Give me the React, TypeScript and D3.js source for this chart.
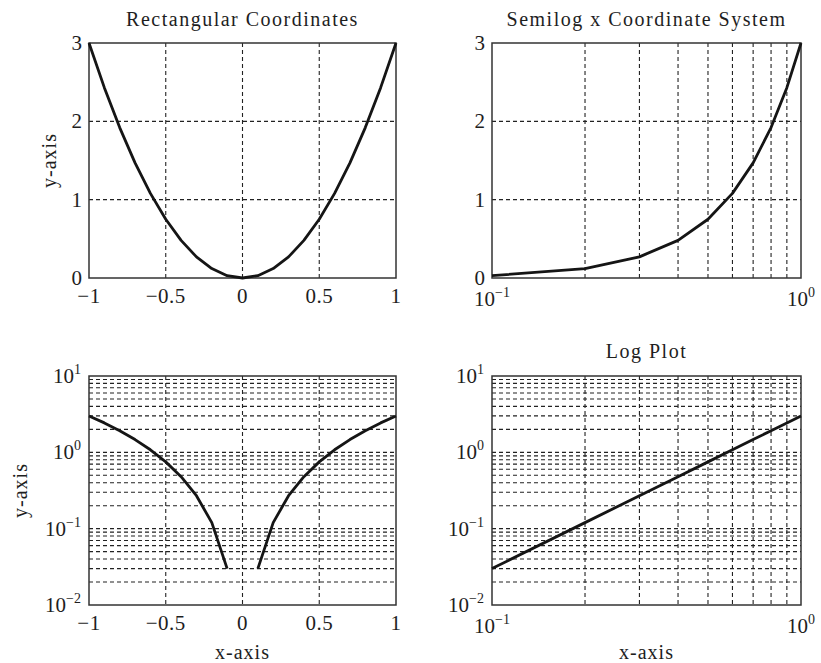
import React from "react";
import * as d3 from "d3";

// ---- data ----
const X_ALL = [-1, -0.9, -0.8, -0.7, -0.6, -0.5, -0.4, -0.3, -0.2, -0.1, 0, 0.1, 0.2, 0.3, 0.4, 0.5, 0.6, 0.7, 0.8, 0.9, 1];
const Y_ALL = [3, 2.43, 1.92, 1.47, 1.08, 0.75, 0.48, 0.27, 0.12, 0.03, 0, 0.03, 0.12, 0.27, 0.48, 0.75, 1.08, 1.47, 1.92, 2.43, 3];
const X_POS = [0.1, 0.2, 0.3, 0.4, 0.5, 0.6, 0.7, 0.8, 0.9, 1];
const Y_POS = [0.03, 0.12, 0.27, 0.48, 0.75, 1.08, 1.47, 1.92, 2.43, 3];

const LIN_X_TICKS = [-1, -0.5, 0, 0.5, 1];
const LIN_Y_TICKS = [0, 1, 2, 3];
const LOG_X_TICKS = [0.1, 1];
const LOG_Y_TICKS = [0.01, 0.1, 1, 10];

const TITLES = ["Rectangular Coordinates", "Semilog x Coordinate System", "", "Log Plot"];

const FONT = "'Liberation Serif', 'DejaVu Serif', serif";
const INK = "#1e1e1e";

type Kind = "lin" | "log";

const fmtLin = (v: number) => (v < 0 ? "\u2212" + String(-v) : String(v));
const expOf = (v: number) => Math.round(Math.log10(v));
const fmtExp = (e: number) => (e < 0 ? "\u2212" + String(-e) : String(e));

function Panel(props: {
  left: number; right: number; top: number; bottom: number;
  xKind: Kind; yKind: Kind; xs: number[]; ys: number[];
  title: string; titleY: number; yLabel: string; yLabelX: number; xLabel: string; xLabelY: number;
}) {
  const { left, right, top, bottom, xKind, yKind, xs, ys } = props;
  const x: any = xKind === "lin"
    ? d3.scaleLinear().domain([-1, 1]).range([left, right])
    : d3.scaleLog().domain([0.1, 1]).range([left, right]);
  const y: any = yKind === "lin"
    ? d3.scaleLinear().domain([0, 3]).range([bottom, top])
    : d3.scaleLog().domain([0.01, 10]).range([bottom, top]);

  const eps = 1e-9;
  const inside = (v: number, dom: number[]) => v > dom[0] + eps && v < dom[1] - eps;

  const xGrid: number[] = xKind === "lin"
    ? LIN_X_TICKS.filter((v) => inside(v, x.domain()))
    : x.ticks().filter((v: number) => inside(v, x.domain()));
  const yGrid: number[] = yKind === "lin"
    ? LIN_Y_TICKS.filter((v) => inside(v, y.domain()))
    : y.ticks().filter((v: number) => inside(v, y.domain()));

  const pts = xs.map((v, i) => [v, ys[i]] as [number, number]);
  const line = d3.line<[number, number]>()
    .defined((d) => (yKind === "log" ? d[1] > 0 : true))
    .x((d) => x(d[0]))
    .y((d) => y(d[1]));

  const xTicks = xKind === "lin" ? LIN_X_TICKS : LOG_X_TICKS;
  const yTicks = yKind === "lin" ? LIN_Y_TICKS : LOG_Y_TICKS;

  return (
    <g fontFamily={FONT} fill={INK}>
      {xGrid.map((v) => (
        <line key={"gx" + v} x1={x(v)} x2={x(v)} y1={top} y2={bottom}
          stroke="#222" strokeWidth={1.1} strokeDasharray="4,3" />
      ))}
      {yGrid.map((v) => (
        <line key={"gy" + v} x1={left} x2={right} y1={y(v)} y2={y(v)}
          stroke="#222" strokeWidth={1.1} strokeDasharray="4,3" />
      ))}
      <rect x={left} y={top} width={right - left} height={bottom - top}
        fill="none" stroke="#333" strokeWidth={1.5} />
      <path d={line(pts) || ""} fill="none" stroke="#151515" strokeWidth={2.8} strokeLinejoin="round" />

      {xTicks.map((v) =>
        xKind === "lin" ? (
          <text key={"tx" + v} x={x(v)} y={bottom + 25} textAnchor="middle" fontSize={21} letterSpacing={0.5}>
            {fmtLin(v)}
          </text>
        ) : (
          <text key={"tx" + v} x={x(v)} y={bottom + 28} textAnchor="middle" fontSize={21}>
            <tspan>10</tspan>
            <tspan dy={-9} fontSize={14}>{fmtExp(expOf(v))}</tspan>
          </text>
        )
      )}
      {yTicks.map((v) =>
        yKind === "lin" ? (
          <text key={"ty" + v} x={left - 7} y={y(v) + 7} textAnchor="end" fontSize={21}>
            {fmtLin(v)}
          </text>
        ) : (
          <text key={"ty" + v} x={left - 8} y={y(v) + 7} textAnchor="end" fontSize={21}>
            <tspan>10</tspan>
            <tspan dy={-9} fontSize={14}>{fmtExp(expOf(v))}</tspan>
          </text>
        )
      )}

      {props.title && (
        <text x={(left + right) / 2} y={props.titleY} textAnchor="middle" fontSize={20} letterSpacing={1.5}>
          {props.title}
        </text>
      )}
      {props.yLabel && (
        <text transform={`translate(${props.yLabelX},${(top + bottom) / 2}) rotate(-90)`}
          textAnchor="middle" fontSize={20} letterSpacing={1}>
          {props.yLabel}
        </text>
      )}
      {props.xLabel && (
        <text x={(left + right) / 2} y={props.xLabelY} textAnchor="middle" fontSize={20} letterSpacing={1}>
          {props.xLabel}
        </text>
      )}
    </g>
  );
}

export default function App() {
  const L1 = 89, R1 = 396, L2 = 492, R2 = 801;
  const T1 = 43, B1 = 278, T2 = 376, B2 = 605;
  return (
    <svg width={821} height={663} style={{ position: "absolute", left: 0, top: 0, background: "#fff" }}>
      <rect width={821} height={663} fill="#fff" />
      <Panel left={L1} right={R1} top={T1} bottom={B1} xKind="lin" yKind="lin" xs={X_ALL} ys={Y_ALL}
        title={TITLES[0]} titleY={26} yLabel="y-axis" yLabelX={56} xLabel="" xLabelY={0} />
      <Panel left={L2} right={R2} top={T1} bottom={B1} xKind="log" yKind="lin" xs={X_POS} ys={Y_POS}
        title={TITLES[1]} titleY={26} yLabel="" yLabelX={0} xLabel="" xLabelY={0} />
      <Panel left={L1} right={R1} top={T2} bottom={B2} xKind="lin" yKind="log" xs={X_ALL} ys={Y_ALL}
        title={TITLES[2]} titleY={0} yLabel="y-axis" yLabelX={27} xLabel="x-axis" xLabelY={659} />
      <Panel left={L2} right={R2} top={T2} bottom={B2} xKind="log" yKind="log" xs={X_POS} ys={Y_POS}
        title={TITLES[3]} titleY={358} yLabel="" yLabelX={0} xLabel="x-axis" xLabelY={659} />
    </svg>
  );
}
